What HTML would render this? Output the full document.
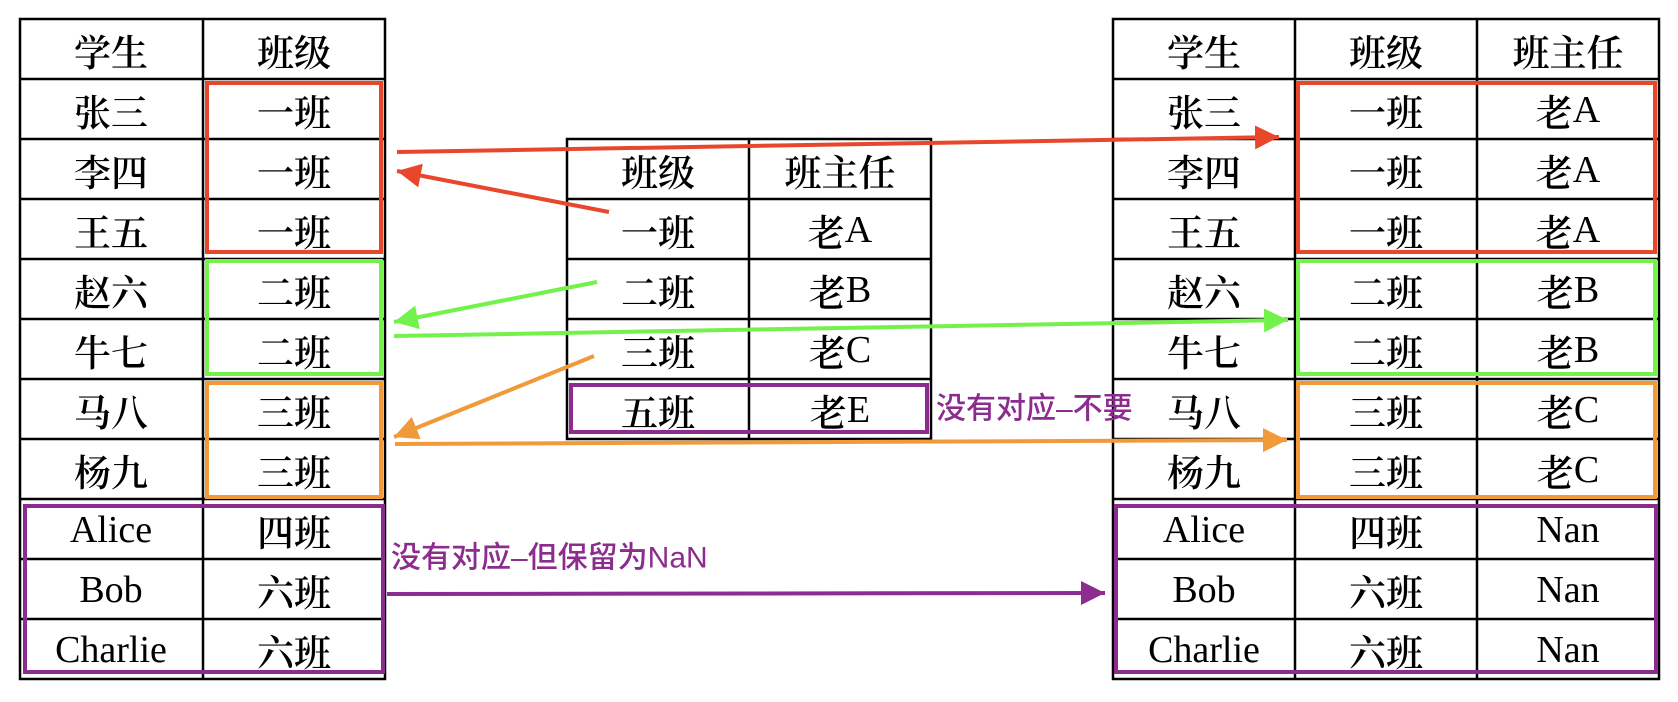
<!DOCTYPE html>
<html><head><meta charset="utf-8"><style>
html,body{margin:0;padding:0;background:#fff;width:1678px;height:702px;overflow:hidden}
svg{display:block}
.t{font-family:"Noto Serif CJK SC","Liberation Serif",serif;font-size:37px;fill:#000;text-anchor:middle;dominant-baseline:central;font-weight:600}
.t .n,.t text.n{font-family:"Liberation Serif",serif;font-weight:normal;font-size:38px}
.l{font-family:"Liberation Sans","Noto Sans CJK SC",sans-serif;font-size:30px;fill:#8B2C8E;font-weight:500;dominant-baseline:central}
</style></head><body>
<svg width="1678" height="702" viewBox="0 0 1678 702" xmlns="http://www.w3.org/2000/svg">
<defs>
<marker id="mr" markerUnits="userSpaceOnUse" markerWidth="26" markerHeight="26" refX="24" refY="12" orient="auto"><path d="M0,0 L24,12 L0,24 z" fill="#E8472B"/></marker>
<marker id="mg" markerUnits="userSpaceOnUse" markerWidth="26" markerHeight="26" refX="24" refY="12" orient="auto"><path d="M0,0 L24,12 L0,24 z" fill="#72F24A"/></marker>
<marker id="mo" markerUnits="userSpaceOnUse" markerWidth="26" markerHeight="26" refX="24" refY="12" orient="auto"><path d="M0,0 L24,12 L0,24 z" fill="#F09A3A"/></marker>
<marker id="mp" markerUnits="userSpaceOnUse" markerWidth="26" markerHeight="26" refX="24" refY="12" orient="auto"><path d="M0,0 L24,12 L0,24 z" fill="#8B2C8E"/></marker>
</defs>
<g stroke="#000" stroke-width="2.5" fill="none">
<rect x="20" y="19" width="365" height="660"/>
<line x1="203" y1="19" x2="203" y2="679"/>
<path d="M20 79H385M20 139H385M20 199H385M20 259H385M20 319H385M20 379H385M20 439H385M20 499H385M20 559H385M20 619H385"/>
<rect x="567" y="139" width="364" height="300"/>
<line x1="749" y1="139" x2="749" y2="439"/>
<path d="M567 199H931M567 259H931M567 319H931M567 379H931"/>
<rect x="1113" y="19" width="546" height="660"/>
<line x1="1295" y1="19" x2="1295" y2="679"/>
<line x1="1477" y1="19" x2="1477" y2="679"/>
<path d="M1113 79H1659M1113 139H1659M1113 199H1659M1113 259H1659M1113 319H1659M1113 379H1659M1113 439H1659M1113 499H1659M1113 559H1659M1113 619H1659"/>
</g>
<g fill="none" stroke-width="4">
<rect x="207" y="83" width="174" height="169" stroke="#E8472B"/>
<rect x="207" y="261" width="174" height="113" stroke="#72F24A"/>
<rect x="207" y="383" width="174" height="114" stroke="#F09A3A"/>
<rect x="25" y="506" width="358" height="166" stroke="#8B2C8E"/>
<rect x="571" y="385" width="356" height="47" stroke="#8B2C8E"/>
<rect x="1298" y="83" width="357" height="169" stroke="#E8472B"/>
<rect x="1298" y="261" width="357" height="113" stroke="#72F24A"/>
<rect x="1298" y="383" width="357" height="114" stroke="#F09A3A"/>
<rect x="1116" y="506" width="540" height="166" stroke="#8B2C8E"/>
</g>
<g class="t">
<text x="111" y="50">学生</text><text x="294" y="50">班级</text>
<text x="111" y="110">张三</text><text x="294" y="110">一班</text>
<text x="111" y="170">李四</text><text x="294" y="170">一班</text>
<text x="111" y="230">王五</text><text x="294" y="230">一班</text>
<text x="111" y="290">赵六</text><text x="294" y="290">二班</text>
<text x="111" y="350">牛七</text><text x="294" y="350">二班</text>
<text x="111" y="410">马八</text><text x="294" y="410">三班</text>
<text x="111" y="470">杨九</text><text x="294" y="470">三班</text>
<text class="n" x="111" y="530">Alice</text><text x="294" y="530">四班</text>
<text class="n" x="111" y="590">Bob</text><text x="294" y="590">六班</text>
<text class="n" x="111" y="650">Charlie</text><text x="294" y="650">六班</text>
<text x="658" y="170">班级</text><text x="840" y="170">班主任</text>
<text x="658" y="230">一班</text><text x="840" y="230">老<tspan class="n">A</tspan></text>
<text x="658" y="290">二班</text><text x="840" y="290">老<tspan class="n">B</tspan></text>
<text x="658" y="350">三班</text><text x="840" y="350">老<tspan class="n">C</tspan></text>
<text x="658" y="410">五班</text><text x="840" y="410">老<tspan class="n">E</tspan></text>
<text x="1204" y="50">学生</text><text x="1386" y="50">班级</text><text x="1568" y="50">班主任</text>
<text x="1204" y="110">张三</text><text x="1386" y="110">一班</text><text x="1568" y="110">老<tspan class="n">A</tspan></text>
<text x="1204" y="170">李四</text><text x="1386" y="170">一班</text><text x="1568" y="170">老<tspan class="n">A</tspan></text>
<text x="1204" y="230">王五</text><text x="1386" y="230">一班</text><text x="1568" y="230">老<tspan class="n">A</tspan></text>
<text x="1204" y="290">赵六</text><text x="1386" y="290">二班</text><text x="1568" y="290">老<tspan class="n">B</tspan></text>
<text x="1204" y="350">牛七</text><text x="1386" y="350">二班</text><text x="1568" y="350">老<tspan class="n">B</tspan></text>
<text x="1204" y="410">马八</text><text x="1386" y="410">三班</text><text x="1568" y="410">老<tspan class="n">C</tspan></text>
<text x="1204" y="470">杨九</text><text x="1386" y="470">三班</text><text x="1568" y="470">老<tspan class="n">C</tspan></text>
<text class="n" x="1204" y="530">Alice</text><text x="1386" y="530">四班</text><text class="n" x="1568" y="530">Nan</text>
<text class="n" x="1204" y="590">Bob</text><text x="1386" y="590">六班</text><text class="n" x="1568" y="590">Nan</text>
<text class="n" x="1204" y="650">Charlie</text><text x="1386" y="650">六班</text><text class="n" x="1568" y="650">Nan</text>
</g>
<g stroke-width="4" fill="none">
<line x1="397" y1="152" x2="1279" y2="137" stroke="#E8472B" marker-end="url(#mr)"/>
<line x1="609" y1="212" x2="397" y2="171" stroke="#E8472B" marker-end="url(#mr)"/>
<line x1="597" y1="282" x2="394" y2="322" stroke="#72F24A" marker-end="url(#mg)"/>
<line x1="394" y1="336" x2="1288" y2="320" stroke="#72F24A" marker-end="url(#mg)"/>
<line x1="594" y1="356" x2="394" y2="437" stroke="#F09A3A" marker-end="url(#mo)"/>
<line x1="395" y1="444" x2="1287" y2="440" stroke="#F09A3A" marker-end="url(#mo)"/>
<line x1="387" y1="594" x2="1105" y2="593" stroke="#8B2C8E" marker-end="url(#mp)"/>
</g>
<text class="l" x="936" y="409">没有对应–不要</text>
<text class="l" x="391" y="558">没有对应–但保留为NaN</text>
</svg>
</body></html>
